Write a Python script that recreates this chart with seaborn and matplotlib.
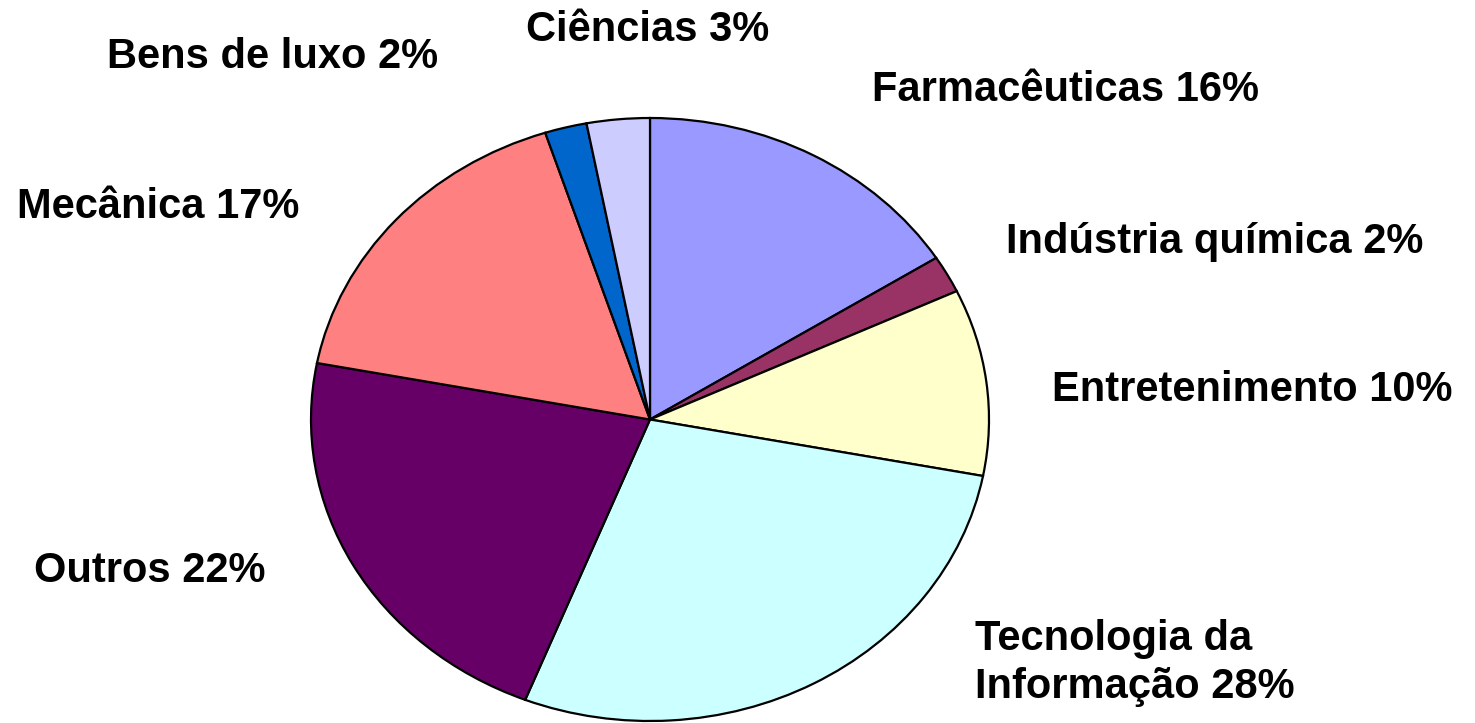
import matplotlib
matplotlib.use("Agg")
import matplotlib.pyplot as plt
import seaborn as sns

sns.set_style("white")
plt.rcParams['font.family'] = ['Liberation Sans', 'DejaVu Sans']

categories = ["Farmacêuticas", "Indústria química", "Entretenimento",
              "Tecnologia da\nInformação", "Outros", "Mecânica",
              "Bens de luxo", "Ciências"]
values = [16, 2, 10, 28, 22, 17, 2, 3]
colors = ["#9999FF", "#993366", "#FFFFCC", "#CCFFFF", "#660066",
          "#FF8080", "#0066CC", "#CCCCFF"]

# label anchor positions in pixels (x, y from top), horizontal alignment
label_pos = [(1066, 90, "center"), (1215, 242, "center"), (1252, 390, "center"),
             (975, 663, "left"), (150, 571, "center"), (158, 207, "center"),
             (273, 57, "center"), (648, 30, "center")]

W, H = 1475, 723
fig = plt.figure(figsize=(W / 100, H / 100), dpi=100)
fig.patch.set_facecolor("white")

cx0, cx1, cy0, cy1 = 311, 989, 118, 721
ax = fig.add_axes([cx0 / W, (H - cy1) / H, (cx1 - cx0) / W, (cy1 - cy0) / H])
wedges, _ = ax.pie(values, colors=colors, startangle=90, counterclock=False,
                   radius=1, wedgeprops=dict(edgecolor="black", linewidth=1.6))
for w in wedges:
    w.set_clip_on(False)
ax.set_aspect("auto")
ax.set_xlim(-1, 1)
ax.set_ylim(-1, 1)
ax.axis("off")

for cat, v, (x, y, ha) in zip(categories, values, label_pos):
    fig.text(x / W, 1 - y / H, f"{cat} {v}%", ha=ha, va="center",
             fontsize=30, fontweight="bold", color="black", linespacing=1.25)

fig.savefig("out.png", dpi=100, facecolor="white")
